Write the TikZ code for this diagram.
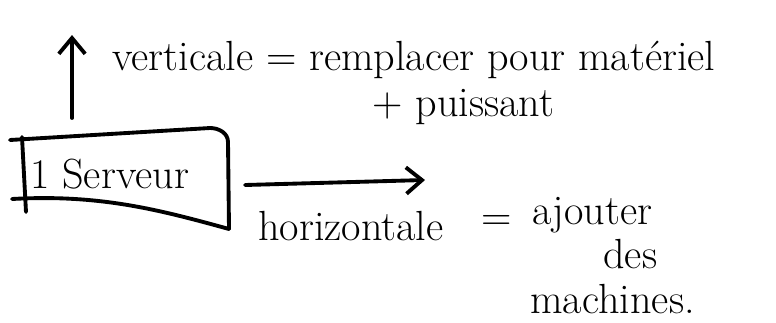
\documentclass[tikz,border=0pt]{standalone}
\usepackage{tikz}
\usetikzlibrary{arrows.meta,positioning}
\tikzset{
  trait/.style={line width=2.2pt, line cap=round, line join=round},
  fleche/.style={trait, -{Straight Barb[length=9pt,width=15pt,line width=2.2pt]}},
  ecrit/.style={font=\fontsize{24}{28}\selectfont, inner sep=0pt},
}
\begin{document}
\begin{tikzpicture}[x=0.02cm,y=-0.02cm]
  \useasboundingbox (0,0) rectangle (776,322);
  % la boite du serveur
  \node[ecrit, anchor=base west] (serveur) at (30,188) {1 Serveur};
  \draw[trait] (10,140) -- (210,128) to[out=0,in=90] (228,142) -- (229,229);
  \draw[trait] (12,199) .. controls (100,194) and (160,210) .. (229,229);
  \draw[trait] (22,137) -- (26,212);

  % montee en charge verticale
  \coordinate (bas) at (72,118);
  \coordinate (haut) at (72,35);
  \draw[fleche] (bas) -- (haut);
  \node[ecrit, anchor=base west] (verticale) at (112,70) {verticale = remplacer pour mat\'eriel};
  \node[ecrit, anchor=base west] (puissant) at (372,116) {+ puissant};

  % montee en charge horizontale
  \coordinate (gauche) at (245,185);
  \coordinate (droite) at (425,180);
  \draw[fleche] (gauche) -- (droite);
  \node[ecrit, anchor=base west] (horizontale) at (258,240) {horizontale};
  \node[ecrit] (egal) at (497,223) {=};
  \node[ecrit, anchor=base west] (ajouter) at (532,224) {ajouter};
  \node[ecrit, anchor=base west] (des) at (603,268) {des};
  \node[ecrit, anchor=base west] (machines) at (530,313) {machines.};
\end{tikzpicture}
\end{document}
